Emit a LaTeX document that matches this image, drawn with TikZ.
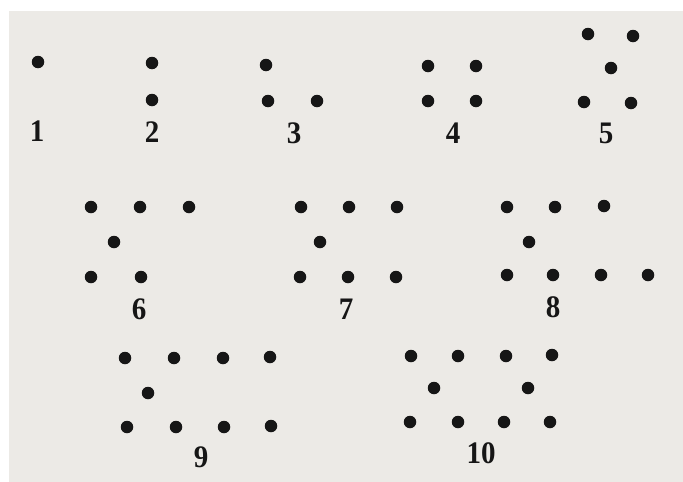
\documentclass[tikz,border=0pt]{standalone}
\usepackage{fontspec}
\setmainfont{Liberation Serif}
\definecolor{paper}{RGB}{236,234,230}
\definecolor{ink}{RGB}{22,22,22}
\tikzset{
  dot/.style={circle,fill=ink,inner sep=0pt,minimum size=12.5pt},
  num/.style={font=\fontsize{29}{29}\selectfont\bfseries,text=ink,inner sep=0pt,yscale=1.08}
}
\begin{document}
\begin{tikzpicture}[x=1pt,y=-1pt]
\useasboundingbox (0,0) rectangle (683,482);
\fill[white] (0,0) rectangle (683,482);
\fill[paper] (9,11) rectangle (683,482);
% group 1
\node[dot] (a1) at (38,62) {};
\node[num] (l1) at (37,131) {1};
% group 2
\foreach \x/\y [count=\i] in {152/63,152/100} \node[dot] (b\i) at (\x,\y) {};
\node[num] (l2) at (152,132) {2};
% group 3
\foreach \x/\y [count=\i] in {266/65,268/101,317/101} \node[dot] (c\i) at (\x,\y) {};
\node[num] (l3) at (294,133) {3};
% group 4
\foreach \x/\y [count=\i] in {428/66,476/66,428/101,476/101} \node[dot] (e\i) at (\x,\y) {};
\node[num] (l4) at (453,133) {4};
% group 5
\foreach \x/\y [count=\i] in {588/34,633/36,611/68,584/102,631/103} \node[dot] (f\i) at (\x,\y) {};
\node[num] (l5) at (606,133) {5};
% group 6
\foreach \x/\y [count=\i] in {91/207,140/207,189/207,114/242,91/277,141/277} \node[dot] (g\i) at (\x,\y) {};
\node[num] (l6) at (139,309) {6};
% group 7
\foreach \x/\y [count=\i] in {301/207,349/207,397/207,320/242,300/277,348/277,396/277} \node[dot] (h\i) at (\x,\y) {};
\node[num] (l7) at (346,309) {7};
% group 8
\foreach \x/\y [count=\i] in {507/207,555/207,604/206,529/242,507/275,553/275,601/275,648/275} \node[dot] (k\i) at (\x,\y) {};
\node[num] (l8) at (553,307) {8};
% group 9
\foreach \x/\y [count=\i] in {125/358,174/358,223/358,270/357,148/393,127/427,176/427,224/427,271/426} \node[dot] (m\i) at (\x,\y) {};
\node[num] (l9) at (201,457) {9};
% group 10
\foreach \x/\y [count=\i] in {411/356,458/356,506/356,552/355,434/388,528/388,410/422,458/422,504/422,550/422} \node[dot] (n\i) at (\x,\y) {};
\node[num] (l10) at (481,453) {10};
\end{tikzpicture}
\end{document}
